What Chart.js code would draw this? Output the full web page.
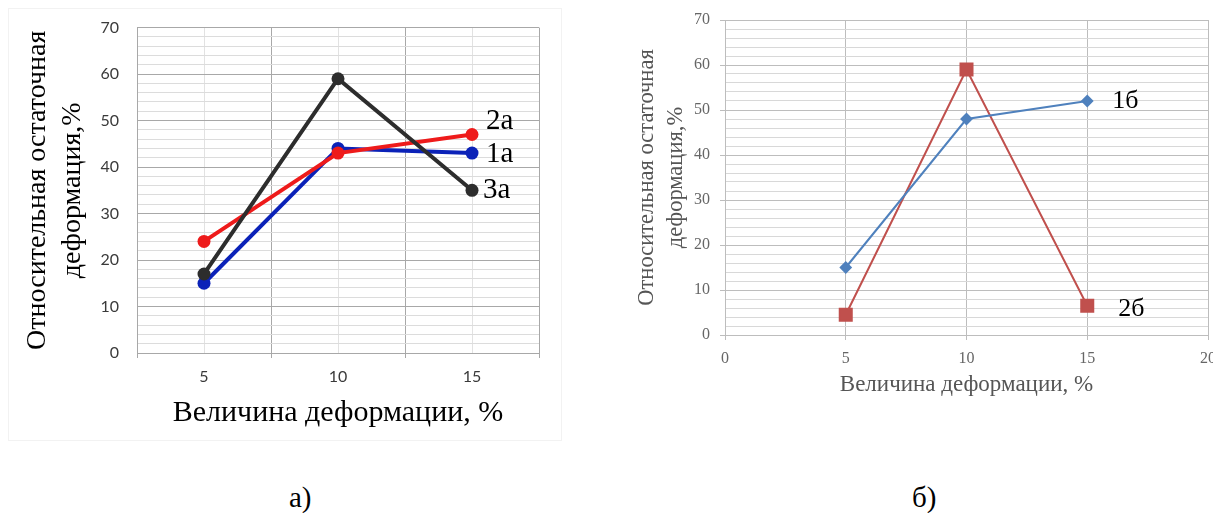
<!DOCTYPE html>
<html lang="ru">
<head>
<meta charset="utf-8">
<script src="https://cdn.jsdelivr.net/npm/chart.js@4.4.1/dist/chart.umd.min.js"></script>
<style>
  html, body { margin: 0; padding: 0; background: #fff; overflow: hidden; }
  #wrap { position: relative; width: 1213px; height: 513px; overflow: hidden; }
  #frameA { position: absolute; left: 8px; top: 8px; width: 552px; height: 431px; border: 1px solid #f2f2f2; }
  #chartA { position: absolute; left: 0; top: 0; }
  #chartB { position: absolute; left: 600px; top: 0; }
  .caption { position: absolute; font-family: "Liberation Serif", "Times New Roman", serif; font-size: 29px; line-height: 32px; color: #000; }
</style>
</head>
<body>
<div id="wrap">
  <div id="frameA"></div>
  <canvas id="chartA" width="570" height="450"></canvas>
  <canvas id="chartB" width="640" height="420"></canvas>
  <div class="caption" style="left:289px; top:481px;">а)</div>
  <div class="caption" style="left:912px; top:481px;">б)</div>
</div>
<script>
// chart а) - categories and series
const categoriesA = ['5', '10', '15'];
const series1a = [15, 44, 43];
const series2a = [24, 43, 47];
const series3a = [17, 59, 35];

// chart б) - x values and series
const xValuesB = [5, 10, 15];
const series1b = [15, 48, 52];
const series2b = [4.5, 59, 6.5];

const yTitle = ['Относительная остаточная', 'деформация,%'];
const xTitle = 'Величина деформации, %';

const serif = '"Liberation Serif", "Times New Roman", serif';

// writes the series name next to its last point
const endLabels = {
    id: 'endLabels',
    afterDatasetsDraw(chart) {
        const ctx = chart.ctx;
        chart.data.datasets.forEach((ds, i) => {
            const meta = chart.getDatasetMeta(i);
            const pt = meta.data[meta.data.length - 1];
            ctx.save();
            ctx.font = ds.labelSize + 'px ' + serif;
            ctx.fillStyle = '#000';
            ctx.textAlign = 'left';
            ctx.textBaseline = 'middle';
            ctx.fillText(ds.label, pt.x + ds.labelDx, pt.y + ds.labelDy);
            ctx.restore();
        });
    }
};

const majorOr = (major, minor) => ctx => (ctx.tick && ctx.tick.value % 10 === 0) ? major : minor;

const lineA = (label, data, color, order, dx, dy) => ({
    label, data, order,
    borderColor: color,
    backgroundColor: color,
    borderWidth: 4,
    pointRadius: 6.5,
    pointHoverRadius: 6.5,
    pointBorderWidth: 0,
    labelDx: dx,
    labelDy: dy,
    labelSize: 29,
});

new Chart(document.getElementById('chartA'), {
    type: 'line',
    data: {
        labels: categoriesA,
        datasets: [
            lineA('1а', series1a, '#0b22b8', 3, 14, 1),
            lineA('2а', series2a, '#ee1b1b', 2, 14, -13),
            lineA('3а', series3a, '#2d2d2d', 1, 11, 0),
        ]
    },
    options: {
        responsive: false,
        devicePixelRatio: 1,
        animation: false,
        layout: { padding: { top: 24, right: 31, left: 0, bottom: 0 } },
        plugins: { legend: { display: false }, tooltip: { enabled: false } },
        scales: {
            x: {
                type: 'category',
                offset: true,
                grid: { offset: true, color: '#a8a8a8', tickColor: '#a8a8a8', tickLength: 5 },
                border: { color: '#a8a8a8' },
                ticks: { font: { family: 'Lato', size: 16 }, color: '#3a3a3a', padding: 9 },
                title: {
                    display: true, text: xTitle, color: '#000',
                    font: { family: serif, size: 30, lineHeight: 1.2 },
                    padding: { top: 0, bottom: 19 }
                },
                afterFit: scale => { scale.height = 97; }
            },
            xMid: {
                type: 'category',
                axis: 'x',
                position: 'bottom',
                offset: true,
                grid: { offset: false, color: '#e2e2e2', drawTicks: false },
                border: { display: false },
                ticks: { display: false },
                afterFit: scale => { scale.height = 0; }
            },
            y: {
                min: 0, max: 70,
                ticks: {
                    stepSize: 2, autoSkip: false,
                    callback: v => v % 10 === 0 ? v : '',
                    font: { family: 'Lato', size: 16 }, color: '#3a3a3a', padding: 18
                },
                grid: { color: majorOr('#a8a8a8', '#dcdcdc'), drawTicks: false },
                border: { color: '#a8a8a8' },
                title: {
                    display: true, text: yTitle, color: '#000',
                    font: { family: serif, size: 28, lineHeight: 1.25 },
                    padding: { top: 20, bottom: 0 }
                },
                afterFit: scale => { scale.width = 137; }
            }
        }
    },
    plugins: [endLabels]
});

const toPoints = ys => ys.map((y, i) => ({ x: xValuesB[i], y }));

new Chart(document.getElementById('chartB'), {
    type: 'scatter',
    data: {
        datasets: [{
            label: '1б',
            data: toPoints(series1b),
            showLine: true,
            borderColor: '#4f81bd',
            backgroundColor: '#4f81bd',
            borderWidth: 2,
            pointStyle: 'rectRot',
            pointRadius: 5,
            pointHoverRadius: 5,
            labelDx: 25,
            labelDy: 0,
            labelSize: 26,
        }, {
            label: '2б',
            data: toPoints(series2b),
            showLine: true,
            borderColor: '#c0504d',
            backgroundColor: '#c0504d',
            borderWidth: 2,
            pointStyle: 'rect',
            pointRadius: 8.5,
            pointHoverRadius: 8.5,
            labelDx: 31,
            labelDy: 3,
            labelSize: 26,
        }]
    },
    options: {
        responsive: false,
        devicePixelRatio: 1,
        animation: false,
        layout: { padding: { top: 20, right: 32, left: 0, bottom: 0 } },
        plugins: { legend: { display: false }, tooltip: { enabled: false } },
        scales: {
            x: {
                type: 'linear',
                min: 0, max: 20,
                ticks: { stepSize: 5, font: { family: serif, size: 16 }, color: '#666', padding: 9 },
                grid: { color: '#bdbdbd', tickColor: '#bdbdbd', tickLength: 5 },
                border: { color: '#bdbdbd' },
                title: {
                    display: true, text: xTitle, color: '#555',
                    font: { family: serif, size: 23, lineHeight: 1.2 },
                    padding: { top: 0, bottom: 21 }
                },
                afterFit: scale => { scale.height = 85; }
            },
            y: {
                min: 0, max: 70,
                ticks: {
                    stepSize: 2, autoSkip: false,
                    callback: v => v % 10 === 0 ? v : '',
                    font: { family: serif, size: 16 }, color: '#666', padding: 10
                },
                grid: {
                    color: majorOr('#bdbdbd', '#d8d8d8'),
                    tickColor: majorOr('#bdbdbd', 'rgba(0,0,0,0)'),
                    tickLength: 5
                },
                border: { color: '#bdbdbd' },
                title: {
                    display: true, text: yTitle, color: '#555',
                    font: { family: serif, size: 22.5, lineHeight: 1.3 },
                    padding: { top: 32, bottom: 0 }
                },
                afterFit: scale => { scale.width = 125; }
            }
        }
    },
    plugins: [endLabels]
});
</script>
</body>
</html>
